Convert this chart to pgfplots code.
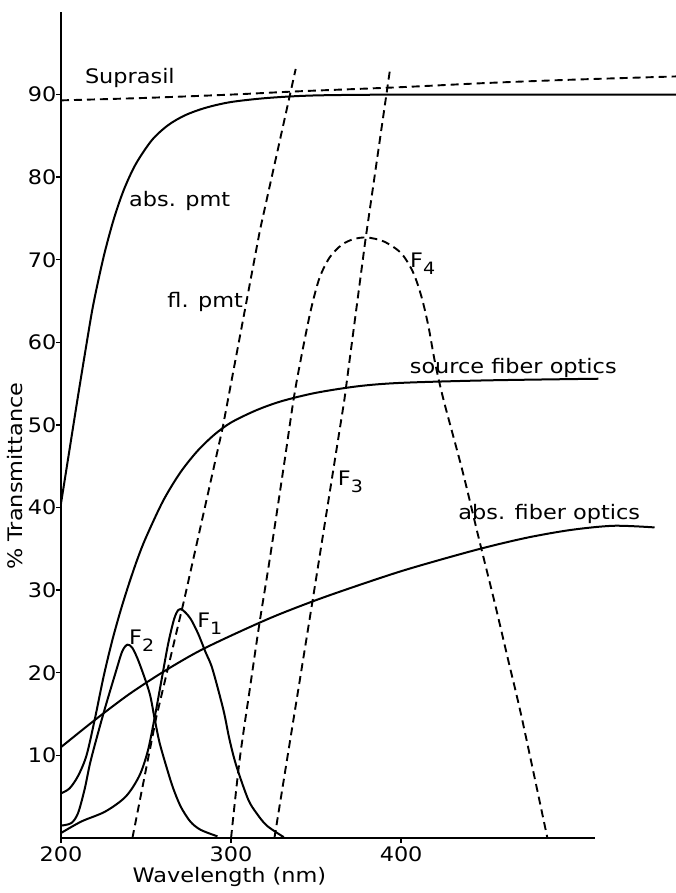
\documentclass[border=0pt]{standalone}
\usepackage{fontspec}
\setmainfont{DejaVu Sans}[FakeStretch=1.12]
\usepackage{pgfplots}
\pgfplotsset{compat=1.18}
\newcommand{\sub}[1]{\raisebox{-7pt}{\fontsize{17}{19}\selectfont #1}}
\begin{document}
\begin{tikzpicture}[font=\fontsize{20}{23}\selectfont]
\useasboundingbox (-61pt,-55pt) rectangle (615pt,838pt);
\begin{axis}[
  at={(0pt,0pt)}, anchor=south west,
  scale only axis, width=534pt, height=826pt,
  xmin=200, xmax=514, ymin=0, ymax=100,
  axis lines=left,
  x axis line style={-, line width=2.6pt},
  y axis line style={-, line width=1.8pt},
  xtick={200,300,400}, ytick={10,20,...,90},
  tick align=outside, major tick length=5pt,
  tick style={line width=1.4pt, black},
  yticklabel style={xshift=4pt},
  /pgf/number format/assume math mode=true,
  clip=false,
  solid curve/.style={line width=2pt, black, smooth, tension=0.5},
  dash curve/.style={line width=1.9pt, black, dash pattern=on 8pt off 5pt},
]
% Suprasil
\addplot[dash curve, smooth] coordinates {(200,89.3) (250,89.6) (300,90.0) (340,90.4) (400,90.9) (450,91.4) (500,91.8) (562,92.2)};
% abs. pmt
\addplot[solid curve] coordinates {(200,40.5) (205,47) (210,53.5) (215,59.8) (219,64.6) (225,70.3) (231,74.9) (237,78.5) (244,81.6) (253.5,84.5) (263,86.3) (273,87.5) (285,88.4) (300,89.1) (322,89.6) (350,89.9) (400,90) (480,90) (562,90)};
% fl. pmt
\addplot[dash curve] coordinates {(242,0) (256,14.6) (272.4,28.8) (295,49.6) (317,73.6) (338,93.1)};
% F3
\addplot[dash curve] coordinates {(325.5,0) (348.3,29.2) (366.6,53) (379,72.4) (393.5,93.1)};
% F4
\addplot[dash curve, smooth, tension=0.5] coordinates {(300,0) (305,9.4) (311,18) (316.7,26) (322.7,33.7) (331,45) (337,53.4) (342,59) (347,64) (352,67.8) (358,70.3) (365,71.8) (372,72.5) (380,72.7) (390,72.2) (400,70.8) (407,68.5) (412,65.5) (416,62) (420,57.5) (425,53) (436,44.5) (446,36) (455,28.5) (463,21.5) (471,14.5) (486,0)};
% source fiber optics
\addplot[solid curve] coordinates {(200,5.4) (205,6) (210,7.5) (215,10) (220,14.5) (225,19.5) (230,23.8) (235,27.5) (240,30.8) (245,33.8) (250,36.4) (260,40.8) (270,44.2) (280,46.8) (290,48.8) (300,50.3) (315,51.8) (330,52.9) (350,53.9) (375,54.7) (400,55.1) (450,55.4) (516,55.6)};
% abs. fiber optics
\addplot[solid curve] coordinates {(200,11) (220,14.3) (240,17.4) (260,20.1) (280,22.5) (300,24.5) (325,26.8) (350,28.8) (375,30.6) (400,32.3) (425,33.8) (450,35.2) (475,36.4) (500,37.3) (525,37.8) (549,37.6)};
% F1
\addplot[solid curve] coordinates {(200,0.6) (212,2) (226,3.2) (238,5) (246,7.5) (251,10.5) (255,14.5) (259,19) (263,23.5) (266.5,26.5) (269,27.6) (271.5,27.6) (276,26.6) (280.5,24.8) (285,22.5) (289,20.5) (295.5,15.5) (299,12) (303,8.8) (310,4.7) (315,3) (321,1.5) (331,0.1)};
% F2
\addplot[solid curve] coordinates {(200,1.5) (206,1.8) (210,3) (214,6) (217.5,9.4) (225,15.1) (232.5,20.3) (236,22.6) (239,23.4) (242,23) (246,21.2) (252,17.6) (255,14.5) (258,11.5) (262.6,8.2) (266,6) (270.4,3.8) (276,2) (282,1) (292,0.2)};

\node[anchor=base west, inner sep=0] at (axis cs:214,91.4) {Suprasil};
\node[anchor=base west, inner sep=0] at (axis cs:240,76.4) {abs. pmt};
\node[anchor=base west, inner sep=0] at (axis cs:262.5,64.2) {fl. pmt};
\node[anchor=base west, inner sep=0] at (axis cs:405,56.2) {source fiber optics};
\node[anchor=base west, inner sep=0] at (axis cs:433.6,38.6) {abs. fiber optics};
\node[anchor=base west, inner sep=0] at (axis cs:280,25.5) {F\sub{1}};
\node[anchor=base west, inner sep=0] at (axis cs:240,23.4) {F\sub{2}};
\node[anchor=base west, inner sep=0] at (axis cs:362.7,42.7) {F\sub{3}};
\node[anchor=base west, inner sep=0] at (axis cs:405.2,69.1) {F\sub{4}};
\node[rotate=90] at ([xshift=-46pt]axis cs:200,43.8) {\% Transmittance};
\node at ([yshift=-39pt]axis cs:299,0) {Wavelength (nm)};
\end{axis}
\end{tikzpicture}
\end{document}
